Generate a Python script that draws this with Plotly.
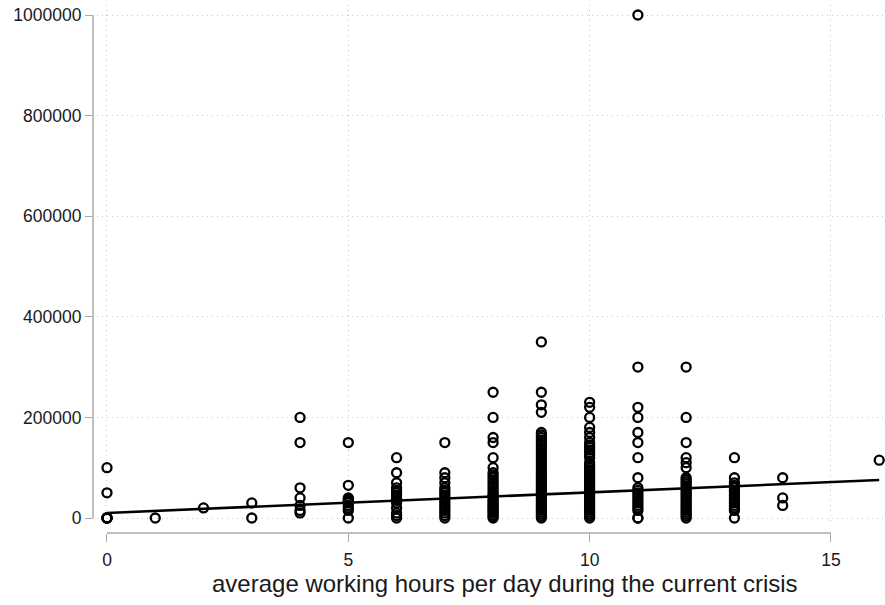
import plotly.graph_objects as go

# ---- data ----
inc_h0 = [0, 0, 0, 0, 50000, 100000]
inc_h1 = [0]
inc_h2 = [20000]
inc_h3 = [0, 30000]
inc_h4 = [10000, 15000, 25000, 40000, 60000, 150000, 200000]
inc_h5 = [0, 15000, 20000, 25000, 30000, 32000, 35000, 38000, 40000, 65000, 150000]
inc_h6 = [0, 5000, 10000, 20000, 30000, 35000, 40000, 45000, 50000, 55000, 60000,
          70000, 90000, 120000]
inc_h7 = [0, 5000, 10000, 15000, 20000, 25000, 30000, 35000, 40000, 45000, 50000,
          55000, 60000, 70000, 80000, 90000, 150000]
inc_h8 = [0, 3000, 6000, 10000, 13000, 16000, 20000, 23000, 26000, 30000, 33000,
          36000, 40000, 43000, 46000, 50000, 55000, 60000, 65000, 70000, 75000,
          80000, 85000, 90000, 100000, 120000, 150000, 160000, 200000, 250000]
inc_h9 = [0, 4000, 8000, 12000, 16000, 20000, 24000, 28000, 32000, 36000, 40000,
          44000, 48000, 52000, 56000, 60000, 64000, 68000, 72000, 76000, 80000,
          85000, 90000, 95000, 100000, 105000, 110000, 115000, 120000, 125000,
          130000, 135000, 140000, 145000, 150000, 155000, 160000, 165000, 170000,
          210000, 225000, 250000, 350000]
inc_h10 = [0, 4000, 8000, 12000, 16000, 20000, 24000, 28000, 32000, 36000, 40000,
           44000, 48000, 52000, 56000, 60000, 64000, 68000, 72000, 76000, 80000,
           84000, 88000, 92000, 96000, 100000, 105000, 110000, 120000, 125000,
           130000, 135000, 140000, 145000, 150000, 160000, 170000, 180000, 200000,
           220000, 230000]
inc_h11 = [0, 0, 15000, 20000, 25000, 30000, 35000, 40000, 45000, 50000, 55000,
           60000, 80000, 120000, 150000, 170000, 200000, 220000, 300000, 1000000]
inc_h12 = [0, 4000, 8000, 12000, 16000, 20000, 24000, 28000, 32000, 36000, 40000,
           44000, 48000, 52000, 56000, 60000, 64000, 68000, 72000, 76000, 80000,
           100000, 110000, 120000, 150000, 200000, 300000]
inc_h13 = [0, 15000, 20000, 25000, 30000, 35000, 40000, 45000, 50000, 55000, 60000,
           65000, 70000, 80000, 120000]
inc_h14 = [25000, 40000, 80000]
inc_h16 = [115000]

hour_values = [0, 1, 2, 3, 4, 5, 6, 7, 8, 9, 10, 11, 12, 13, 14, 16]
income_groups = [inc_h0, inc_h1, inc_h2, inc_h3, inc_h4, inc_h5, inc_h6, inc_h7,
                 inc_h8, inc_h9, inc_h10, inc_h11, inc_h12, inc_h13, inc_h14, inc_h16]

fit_hours = [0, 16]
fit_income = [10000, 75500]

x_ticks = [0, 5, 10, 15]
y_ticks = [0, 200000, 400000, 600000, 800000, 1000000]
x_title = "average working hours per day during the current crisis"

# ---- build scatter table ----
xs, ys = [], []
for h, grp in zip(hour_values, income_groups):
    xs.extend([h] * len(grp))
    ys.extend(grp)

W, H = 885, 605
FONT = "Liberation Sans, Arial, Helvetica, sans-serif"
AX_COLOR = "#aaaaaa"
GRID_COLOR = "#c4c4c4"
GRID_DASH = "1px,4px"

fig = go.Figure()
fig.add_trace(go.Scatter(
    x=xs, y=ys, mode="markers",
    marker=dict(symbol="circle-open", size=9, color="black",
                line=dict(width=2.3, color="black")),
    showlegend=False, cliponaxis=False,
))
fig.add_trace(go.Scatter(
    x=fit_hours, y=fit_income, mode="lines",
    line=dict(color="black", width=2.6),
    showlegend=False,
))

# plot-area geometry (pixels)
left_px, right_px, top_px, bottom_px = 97, 885, 5, 525
x_axis_px = 533
y_axis_px = 93

fig.update_layout(
    width=W, height=H,
    margin=dict(l=0, r=0, t=0, b=0),
    paper_bgcolor="white", plot_bgcolor="white",
    font=dict(family=FONT, color="#1a1a1a", size=17.5),
    xaxis=dict(
        domain=[left_px / W, right_px / W],
        range=[-0.207, 16.12],
        anchor="free", position=(H - x_axis_px) / H,
        tickvals=x_ticks, ticks="outside", ticklen=8, tickwidth=1.2,
        tickcolor=AX_COLOR, showline=False, zeroline=False,
        showgrid=True, gridcolor=GRID_COLOR, griddash=GRID_DASH, gridwidth=1,
        tickfont=dict(size=17.5, color="#1a1a1a"),
        ticklabelstandoff=3,
        automargin=False,
    ),
    yaxis=dict(
        domain=[(H - bottom_px) / H, (H - top_px) / H],
        range=[-13917, 1019880],
        anchor="free", position=y_axis_px / W,
        tickvals=y_ticks, tickformat="d", ticks="outside", ticklen=8,
        tickwidth=1.2, tickcolor=AX_COLOR, showline=False, zeroline=False,
        showgrid=True, gridcolor=GRID_COLOR, griddash=GRID_DASH, gridwidth=1,
        tickfont=dict(size=17.5, color="#1a1a1a"),
        automargin=False,
    ),
    shapes=[
        dict(type="line", xref="x", yref="paper",
             x0=x_ticks[0], x1=x_ticks[-1],
             y0=(H - x_axis_px) / H, y1=(H - x_axis_px) / H,
             line=dict(color=AX_COLOR, width=1.5)),
        dict(type="line", xref="paper", yref="y",
             x0=y_axis_px / W, x1=y_axis_px / W,
             y0=y_ticks[0], y1=y_ticks[-1],
             line=dict(color=AX_COLOR, width=1.5)),
    ],
    annotations=[
        dict(text=x_title, xref="paper", yref="paper",
             x=505 / W, y=(H - 583) / H, xanchor="center", yanchor="middle",
             showarrow=False, font=dict(size=24, color="#1a1a1a", family=FONT)),
    ],
)

fig.write_html("out.html")
